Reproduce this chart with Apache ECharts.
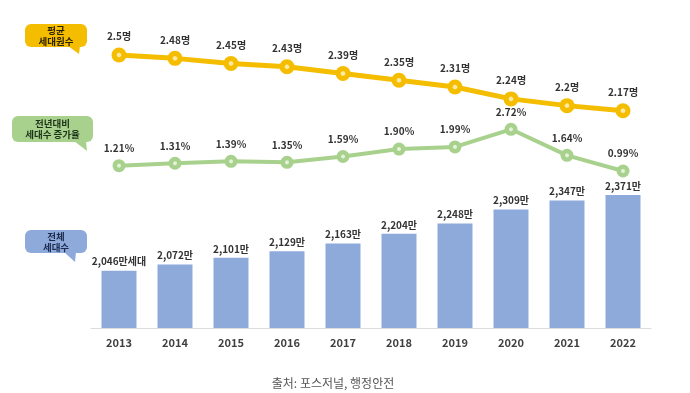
<!DOCTYPE html>
<html>
<head>
<meta charset="utf-8">
<script src="https://cdn.jsdelivr.net/npm/echarts@6/dist/echarts.min.js"></script>
<style>html,body{margin:0;padding:0;background:#fff}#c{width:690px;height:393px}</style>
</head>
<body>
<div id="c"></div>
<script>
var years = ['2013','2014','2015','2016','2017','2018','2019','2020','2021','2022'];
var avgMembers = [2.5, 2.48, 2.45, 2.43, 2.39, 2.35, 2.31, 2.24, 2.2, 2.17];
var growthRate = [1.21, 1.31, 1.39, 1.35, 1.59, 1.90, 1.99, 2.72, 1.64, 0.99];
var households = [2046, 2072, 2101, 2129, 2163, 2204, 2248, 2309, 2347, 2371];

var FONT = '"Noto Sans CJK KR", "Noto Sans", sans-serif';
var chart = echarts.init(document.getElementById('c'), null, {renderer: 'canvas'});

function dot(c, light) {
  return {type: 'radial', x: 0.5, y: 0.5, r: 0.5,
    colorStops: [{offset: 0, color: light}, {offset: 0.22, color: light}, {offset: 0.38, color: c}, {offset: 1, color: c}]};
}

function callout(x, y, w, h, tail, fill, textColor, lines) {
  var kids = [
    {type: 'polygon', shape: {points: tail}, style: {fill: fill}},
    {type: 'rect', shape: {x: x, y: y, width: w, height: h, r: 6}, style: {fill: fill}}
  ];
  var cy = y + h / 2 - (lines.length - 1) * 5.5;
  lines.forEach(function (t, i) {
    kids.push({type: 'text', z: 10, style: {x: x + w / 2, y: cy + i * 11, text: t, align: 'center', verticalAlign: 'middle',
      fill: textColor, fontSize: 9.5, fontWeight: 'bold', fontFamily: 'Noto Sans CJK KR'}});
  });
  return {type: 'group', children: kids};
}

var fmtNum = function (v) { return v.toLocaleString('en-US'); };

chart.setOption({
  backgroundColor: '#ffffff',
  animation: false,
  grid: {left: 91, right: 39, top: 20, bottom: 65},
  xAxis: {
    type: 'category', data: years,
    axisLine: {onZero: false, lineStyle: {color: '#dcdcdc', width: 1}},
    axisTick: {show: false},
    axisLabel: {color: '#404040', fontWeight: 'bold', fontSize: 11, fontFamily: FONT, margin: 9}
  },
  yAxis: [
    {type: 'value', min: 1800, max: 3121.9, show: false, splitLine: {show: false}},
    {type: 'value', min: 0.8827, max: 2.7073, show: false, splitLine: {show: false}},
    {type: 'value', min: -5.525, max: 7.255, show: false, splitLine: {show: false}}
  ],
  series: [
    {
      type: 'bar', yAxisIndex: 0, data: households, barWidth: 35,
      itemStyle: {color: '#8eaadb'},
      label: {show: true, position: 'top', distance: 4, color: '#333', fontWeight: 'bold', fontSize: 10, fontFamily: FONT,
        formatter: function (p) { return fmtNum(p.value) + (p.dataIndex === 0 ? '만세대' : '만'); }}
    },
    {
      type: 'line', yAxisIndex: 1, data: avgMembers, z: 5,
      lineStyle: {color: '#f5bd00', width: 5},
      symbol: 'circle', symbolSize: 15,
      itemStyle: {color: dot('#f5bd00', '#fde9a6')},
      label: {show: true, position: 'top', distance: 6, color: '#333', fontWeight: 'bold', fontSize: 10, fontFamily: FONT,
        formatter: function (p) { return p.value + '명'; }}
    },
    {
      type: 'line', yAxisIndex: 2, data: growthRate, z: 4,
      lineStyle: {color: '#a9d18e', width: 4},
      symbol: 'circle', symbolSize: 13,
      itemStyle: {color: dot('#a9d18e', '#e4f2da')},
      label: {show: true, position: 'top', distance: 6, color: '#333', fontWeight: 'bold', fontSize: 10, fontFamily: FONT,
        formatter: function (p) { return p.value.toFixed(2) + '%'; }}
    }
  ],
  graphic: [
    callout(25, 24, 62, 23, [[68, 46], [80, 46], [79, 54]], '#f5bd00', '#2b2200', ['평균', '세대원수']),
    callout(12, 116, 81, 26, [[74, 141], [86, 141], [87, 151]], '#a9d18e', '#1d3318', ['전년대비', '세대수 증가율']),
    callout(25, 230, 62, 23, [[64, 252], [76, 252], [75, 262]], '#8eaadb', '#1b2a4d', ['전체', '세대수']),
    {type: 'text', style: {x: 333, y: 383, text: '출처: 포스저널, 행정안전', align: 'center', verticalAlign: 'middle',
      fill: '#555', fontSize: 12, fontFamily: 'Noto Sans CJK KR'}}
  ]
});
</script>
</body>
</html>
